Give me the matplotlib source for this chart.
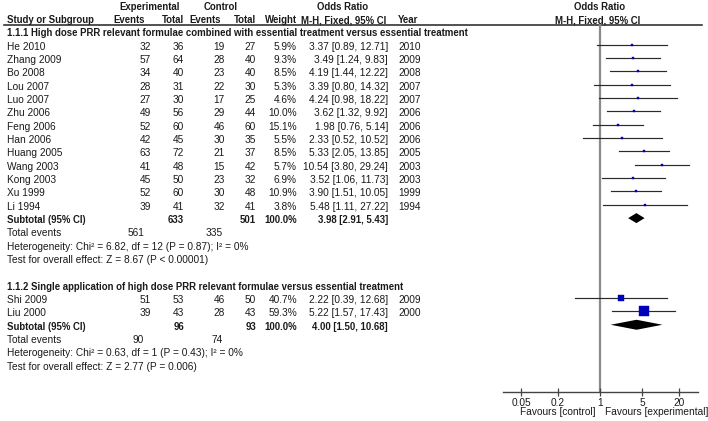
import numpy as np
import matplotlib.pyplot as plt

plt.rcParams['font.family'] = ['Liberation Sans', 'DejaVu Sans']

# subgroup 1.1.1
names1 = ['He 2010', 'Zhang 2009', 'Bo 2008', 'Lou 2007', 'Luo 2007', 'Zhu 2006', 'Feng 2006',
          'Han 2006', 'Huang 2005', 'Wang 2003', 'Kong 2003', 'Xu 1999', 'Li 1994']
ev_e1 = [32, 57, 34, 28, 27, 49, 52, 42, 63, 41, 45, 52, 39]
tot_e1 = [36, 64, 40, 31, 30, 56, 60, 45, 72, 48, 50, 60, 41]
ev_c1 = [19, 28, 23, 22, 17, 29, 46, 30, 21, 15, 23, 30, 32]
tot_c1 = [27, 40, 40, 30, 25, 44, 60, 35, 37, 42, 32, 48, 41]
w1 = [5.9, 9.3, 8.5, 5.3, 4.6, 10.0, 15.1, 5.5, 8.5, 5.7, 6.9, 10.9, 3.8]
or1 = [3.37, 3.49, 4.19, 3.39, 4.24, 3.62, 1.98, 2.33, 5.33, 10.54, 3.52, 3.90, 5.48]
lo1 = [0.89, 1.24, 1.44, 0.80, 0.98, 1.32, 0.76, 0.52, 2.05, 3.80, 1.06, 1.51, 1.11]
hi1 = [12.71, 9.83, 12.22, 14.32, 18.22, 9.92, 5.14, 10.52, 13.85, 29.24, 11.73, 10.05, 27.22]
yr1 = [2010, 2009, 2008, 2007, 2007, 2006, 2006, 2006, 2005, 2003, 2003, 1999, 1994]

# subgroup 1.1.2
names2 = ['Shi 2009', 'Liu 2000']
ev_e2 = [51, 39]
tot_e2 = [53, 43]
ev_c2 = [46, 28]
tot_c2 = [50, 43]
w2 = [40.7, 59.3]
or2 = [2.22, 5.22]
lo2 = [0.39, 1.57]
hi2 = [12.68, 17.43]
yr2 = [2009, 2000]

group_titles = ['1.1.1 High dose PRR relevant formulae combined with essential treatment versus essential treatment',
                '1.1.2 Single application of high dose PRR relevant formulae versus essential treatment']
sub_tot_e = [633, 96]
sub_tot_c = [501, 93]
sub_or = [3.98, 4.00]
sub_lo = [2.91, 1.50]
sub_hi = [5.43, 10.68]
sum_ev_e = [561, 90]
sum_ev_c = [335, 74]
het_text = ['Heterogeneity: Chi² = 6.82, df = 12 (P = 0.87); I² = 0%',
            'Heterogeneity: Chi² = 0.63, df = 1 (P = 0.43); I² = 0%']
test_text = ['Test for overall effect: Z = 8.67 (P < 0.00001)',
             'Test for overall effect: Z = 2.77 (P = 0.006)']
ticks = [0.05, 0.2, 1, 5, 20]
tick_labels = ['0.05', '0.2', '1', '5', '20']

groups = [
    (names1, ev_e1, tot_e1, ev_c1, tot_c1, w1, or1, lo1, hi1, yr1),
    (names2, ev_e2, tot_e2, ev_c2, tot_c2, w2, or2, lo2, hi2, yr2),
]

W, H = 708, 421
fig = plt.figure(figsize=(W / 100, H / 100), dpi=100)
ax = fig.add_axes([0, 0, 1, 1])
ax.set_xlim(0, W)
ax.set_ylim(H, 0)
ax.axis('off')

fs = 7.3
fsb = 6.95
tc = '#1a1a1a'
row0, dy = 33.5, 13.33
def ry(i):
    return row0 + dy * i

# column positions (pixels)
x_name, x_ee, x_te, x_ec, x_tc, x_w, x_or, x_yr = 7, 151, 184, 225, 256, 297, 388, 398

def txt(x, y, s, ha='left', bold=False):
    ax.text(x, y, s, ha=ha, va='center', fontsize=fsb if bold else fs, color=tc,
            fontweight='bold' if bold else 'normal')

# header
txt(150, ry(-2), 'Experimental', 'center', True)
txt(221, ry(-2), 'Control', 'center', True)
txt(343, ry(-2), 'Odds Ratio', 'center', True)
txt(600, ry(-2), 'Odds Ratio', 'center', True)
txt(x_name, ry(-1), 'Study or Subgroup', bold=True)
txt(145, ry(-1), 'Events', 'right', True)
txt(x_te, ry(-1), 'Total', 'right', True)
txt(221, ry(-1), 'Events', 'right', True)
txt(x_tc, ry(-1), 'Total', 'right', True)
txt(x_w, ry(-1), 'Weight', 'right', True)
txt(301, ry(-1), 'M-H, Fixed, 95% CI', bold=True)
txt(x_yr, ry(-1), 'Year', bold=True)
txt(598, ry(-1), 'M-H, Fixed, 95% CI', 'center', True)
ax.plot([4, 702], [24.5, 24.5], color='#222222', lw=1.1)

# forest axes
xpix0, xpix1, ytop, ybot = 503, 698, 24, 392
px_dec = 60.7
fa = fig.add_axes([xpix0 / W, 1 - ybot / H, (xpix1 - xpix0) / W, (ybot - ytop) / H])
fa.set_xscale('log')
fa.set_xlim(10 ** ((xpix0 - 600) / px_dec), 10 ** ((xpix1 - 600) / px_dec))
fa.set_ylim(ybot, ytop)
fa.patch.set_alpha(0)
for s in ['top', 'left', 'right']:
    fa.spines[s].set_visible(False)
fa.spines['bottom'].set_color('#444444')
fa.spines['bottom'].set_linewidth(1.0)
fa.set_yticks([])
fa.set_xticks(ticks)
fa.set_xticklabels(tick_labels)
fa.minorticks_off()
fa.tick_params(axis='x', direction='inout', length=6, width=0.9, color='#444444',
               labelsize=fs, labelcolor=tc, pad=1)
fa.axvline(1, color='#8a8a8a', lw=1.6, zorder=1)

moff = -2.0
i = 0
for g, (nm, ee, te, ec, tcn, w, o, lo, hi, yr) in enumerate(groups):
    if g > 0:
        i += 1
    txt(x_name, ry(i), group_titles[g], bold=True)
    i += 1
    for k in range(len(nm)):
        y = ry(i)
        txt(x_name, y, nm[k])
        txt(x_ee, y, str(ee[k]), 'right')
        txt(x_te, y, str(te[k]), 'right')
        txt(x_ec, y, str(ec[k]), 'right')
        txt(x_tc, y, str(tcn[k]), 'right')
        txt(x_w, y, '%.1f%%' % w[k], 'right')
        txt(x_or, y, '%.2f [%.2f, %.2f]' % (o[k], lo[k], hi[k]), 'right')
        txt(x_yr, y, str(yr[k]))
        fa.plot([lo[k], hi[k]], [y + moff, y + moff], color='#2a2a2a', lw=0.85, zorder=2)
        side = max(2.2, 0.17 * w[k])
        fa.plot(o[k], y + moff, marker='s', ms=side * 0.72, color='#0000bb',
                mec='#0000bb', mew=0.3, zorder=3)
        i += 1
    y = ry(i)
    txt(x_name, y, 'Subtotal (95% CI)', bold=True)
    txt(x_te, y, str(sub_tot_e[g]), 'right', True)
    txt(x_tc, y, str(sub_tot_c[g]), 'right', True)
    txt(x_w, y, '100.0%', 'right', True)
    txt(x_or, y, '%.2f [%.2f, %.2f]' % (sub_or[g], sub_lo[g], sub_hi[g]), 'right', True)
    yc = y + moff
    hh = 5
    fa.fill([sub_lo[g], sub_or[g], sub_hi[g], sub_or[g]], [yc, yc - hh, yc, yc + hh],
            color='black', lw=0, zorder=3)
    i += 1
    txt(x_name, ry(i), 'Total events')
    txt(144, ry(i), str(sum_ev_e[g]), 'right')
    txt(223, ry(i), str(sum_ev_c[g]), 'right')
    i += 1
    txt(x_name, ry(i), het_text[g])
    i += 1
    txt(x_name, ry(i), test_text[g])
    i += 1

txt(596, 412, 'Favours [control]', 'right')
txt(605, 412, 'Favours [experimental]')

fig.savefig('out.png', dpi=100)
